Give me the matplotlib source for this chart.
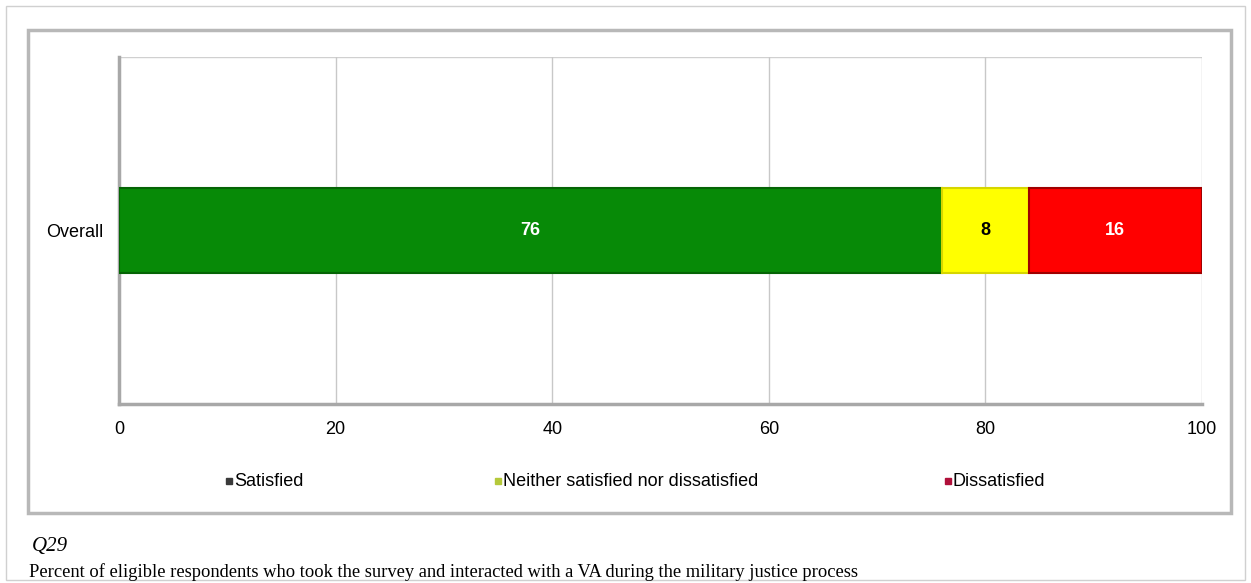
import matplotlib
matplotlib.use('Agg')
import matplotlib.pyplot as plt
from matplotlib.patches import Rectangle

# data
category = 'Overall'
series = ['Satisfied', 'Neither satisfied nor dissatisfied', 'Dissatisfied']
values = [76, 8, 16]
bar_colors = ['#078a07', '#ffff00', '#ff0000']
edge_colors = ['#056405', '#d6d600', '#a00000']
label_colors = ['white', 'black', 'white']
legend_marker_colors = ['#3a3a3a', '#b5c93a', '#b0103a']
xticks = [0, 20, 40, 60, 80, 100]

W, H = 1251, 583
fig = plt.figure(figsize=(W / 100, H / 100), dpi=100)

def fx(px):
    return px / W

def fy(py):
    return 1 - py / H

# outer frames
fig.add_artist(Rectangle((fx(6), fy(580)), fx(1245) - fx(6), fy(6) - fy(580),
                         transform=fig.transFigure, fill=False,
                         edgecolor='#d0d0d0', lw=1))
fig.add_artist(Rectangle((fx(28), fy(513)), fx(1231) - fx(28), fy(30) - fy(513),
                         transform=fig.transFigure, fill=False,
                         edgecolor='#b8b8b8', lw=2.5))

ax = fig.add_axes([fx(119), fy(404), fx(1202) - fx(119), fy(57) - fy(404)])

left = 0
for v, c, ec, tc in zip(values, bar_colors, edge_colors, label_colors):
    ax.barh(0, v, left=left, height=0.245, color=c, edgecolor=ec, lw=1.5, zorder=3)
    ax.text(left + v / 2, 0, str(v), ha='center', va='center', color=tc,
            fontsize=13, fontweight='bold', family='Liberation Sans', zorder=4)
    left += v

ax.set_xlim(0, 100)
ax.set_ylim(-0.5, 0.5)
ax.set_xticks(xticks)
ax.set_xticklabels([str(t) for t in xticks], family='Liberation Sans', fontsize=13)
ax.set_yticks([0])
ax.set_yticklabels([category], family='Liberation Sans', fontsize=13)
ax.tick_params(axis='x', length=0, pad=12)
ax.tick_params(axis='y', length=0, pad=11)
ax.xaxis.grid(True, color='#c8c8c8', lw=1, zorder=0)
for s in ['top', 'right']:
    ax.spines[s].set_visible(False)
ax.axhline(0.5, color='#d0d0d0', lw=1, zorder=0)
ax.spines['left'].set_color('#a8a8a8')
ax.spines['left'].set_linewidth(2.5)
ax.spines['bottom'].set_color('#a8a8a8')
ax.spines['bottom'].set_linewidth(2.5)

# legend
legend_x = [226, 495, 945]
for lx, name, mc in zip(legend_x, series, legend_marker_colors):
    fig.add_artist(Rectangle((fx(lx), fy(484)), fx(6), 6 / H,
                             transform=fig.transFigure, color=mc))
    fig.text(fx(lx + 8), fy(481), name, ha='left', va='center',
             family='Liberation Sans', fontsize=13)

fig.text(fx(32), fy(547), 'Q29', ha='left', va='center', style='italic',
         family='Liberation Serif', fontsize=15)
fig.text(fx(29), fy(572),
         'Percent of eligible respondents who took the survey and interacted with a VA during the military justice process',
         ha='left', va='center', family='Liberation Serif', fontsize=13.3)

fig.savefig('out.png', dpi=100)
